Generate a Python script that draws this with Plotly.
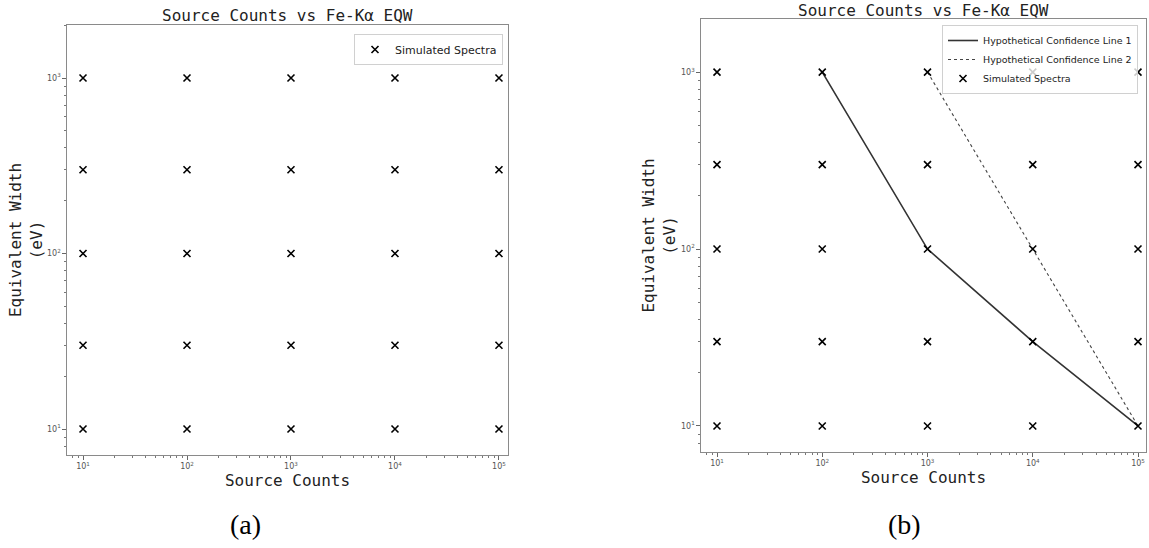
import plotly.graph_objects as go

# ---- data ----
source_counts = [10, 100, 1000, 10000, 100000]
eqw_values = [10, 30, 100, 300, 1000]
tick_vals = [10, 100, 1000, 10000, 100000]
tick_text = ["10<sup>1</sup>", "10<sup>2</sup>", "10<sup>3</sup>", "10<sup>4</sup>", "10<sup>5</sup>"]
y_tick_vals = [10, 100, 1000]
y_tick_text = ["10<sup>1</sup>", "10<sup>2</sup>", "10<sup>3</sup>"]

line1_x = [100, 1000, 10000, 100000]
line1_y = [1000, 100, 30, 10]
line2_x = [1000, 10000, 100000]
line2_y = [1000, 100, 10]

title_text = "Source Counts vs Fe-Kα EQW"
xlabel = "Source Counts"
ylabel = "Equivalent Width<br>(eV)"

# grid of simulated spectra
grid_x = [sx for ey in eqw_values for sx in source_counts]
grid_y = [ey for ey in eqw_values for sx in source_counts]

# minor (log) tick positions: 2..9 times each decade
x_minor = [m * d for d in [1, 10, 100, 1000, 10000, 100000] for m in range(2, 10)]
y_minor = [m * d for d in [1, 10, 100, 1000] for m in range(2, 10)]

W, H = 1149, 548
MONO = "DejaVu Sans Mono"
SANS = "DejaVu Sans"

fig = go.Figure()

marker_style = dict(symbol="x-thin", size=7, color="black",
                    line=dict(width=1.6, color="black"))

# left panel
fig.add_trace(go.Scatter(x=grid_x, y=grid_y, mode="markers", name="Simulated Spectra",
                         marker=marker_style, xaxis="x", yaxis="y", legend="legend"))

# right panel
fig.add_trace(go.Scatter(x=line1_x, y=line1_y, mode="lines", name="Hypothetical Confidence Line 1",
                         line=dict(color="#333333", width=1.6), xaxis="x2", yaxis="y2",
                         legend="legend2"))
fig.add_trace(go.Scatter(x=line2_x, y=line2_y, mode="lines", name="Hypothetical Confidence Line 2",
                         line=dict(color="#444444", width=1.1, dash="dot"), xaxis="x2", yaxis="y2",
                         legend="legend2"))
fig.add_trace(go.Scatter(x=grid_x, y=grid_y, mode="markers", name="Simulated Spectra",
                         marker=marker_style, xaxis="x2", yaxis="y2", legend="legend2"))


def px_x(p):
    return p / W


def px_y(p):
    return 1 - p / H


tick_font = dict(family=SANS, size=8, color="#555555")
common_axis = dict(type="log", showline=True, linecolor="#8a8a8a", linewidth=1.3,
                   mirror=True, ticks="outside", ticklen=3.5, tickcolor="#666666",
                   tickwidth=1, showgrid=False, zeroline=False, tickfont=tick_font)


def minor_ticks(vals):
    return dict(tickmode="array", tickvals=vals, ticks="outside", ticklen=2,
                tickcolor="#777777", tickwidth=0.8, showgrid=False)


ax_title_font = dict(family=MONO, size=16, color="#222")

# left axes: plot area x 67-508, y 25-455 ; right: x 701-1146, y 19-452
fig.update_layout(
    xaxis=dict(domain=[px_x(67), px_x(508)], range=[0.846, 5.087], anchor="y",
               tickmode="array", tickvals=tick_vals, ticktext=tick_text,
               minor=minor_ticks(x_minor),
               title=dict(text=xlabel, font=ax_title_font, standoff=2),
               **common_axis),
    yaxis=dict(domain=[px_y(455), px_y(25)], range=[0.852, 3.302], anchor="x",
               tickmode="array", tickvals=y_tick_vals, ticktext=y_tick_text,
               minor=minor_ticks(y_minor),
               title=dict(text=ylabel, font=ax_title_font, standoff=0),
               **common_axis),
    xaxis2=dict(domain=[px_x(701), px_x(1146)], range=[0.848, 5.076], anchor="y2",
                tickmode="array", tickvals=tick_vals, ticktext=tick_text,
                minor=minor_ticks(x_minor),
                title=dict(text=xlabel, font=ax_title_font, standoff=2),
                **common_axis),
    yaxis2=dict(domain=[px_y(452), px_y(19)], range=[0.853, 3.30], anchor="x2",
                tickmode="array", tickvals=y_tick_vals, ticktext=y_tick_text,
                minor=minor_ticks(y_minor),
                title=dict(text=ylabel, font=ax_title_font, standoff=1),
                **common_axis),
)

fig.update_layout(
    width=W, height=H,
    margin=dict(l=0, r=0, t=0, b=0),
    paper_bgcolor="white", plot_bgcolor="white",
    showlegend=True,
    legend=dict(x=px_x(503), y=px_y(34), xanchor="right", yanchor="top",
                bgcolor="rgba(255,255,255,0.8)", bordercolor="#d0d0d0", borderwidth=1,
                font=dict(family=SANS, size=11, color="#222"), tracegroupgap=0,
                itemwidth=30),
    legend2=dict(x=px_x(1138), y=px_y(25), xanchor="right", yanchor="top",
                 bgcolor="rgba(255,255,255,0.8)", bordercolor="#d0d0d0", borderwidth=1,
                 font=dict(family=SANS, size=9.5, color="#222"), tracegroupgap=0,
                 itemwidth=30),
    annotations=[
        dict(text=title_text, x=px_x(287.5), y=px_y(16), xref="paper", yref="paper",
             xanchor="center", yanchor="middle", showarrow=False,
             font=dict(family=MONO, size=16, color="#222")),
        dict(text=title_text, x=px_x(923.5), y=px_y(10), xref="paper", yref="paper",
             xanchor="center", yanchor="middle", showarrow=False,
             font=dict(family=MONO, size=16, color="#222")),
        dict(text="(a)", x=px_x(246), y=px_y(524), xref="paper", yref="paper",
             xanchor="center", yanchor="middle", showarrow=False,
             font=dict(family="Liberation Serif", size=28, color="black")),
        dict(text="(b)", x=px_x(904), y=px_y(524), xref="paper", yref="paper",
             xanchor="center", yanchor="middle", showarrow=False,
             font=dict(family="Liberation Serif", size=28, color="black")),
    ],
)

fig.write_html("out.html")
